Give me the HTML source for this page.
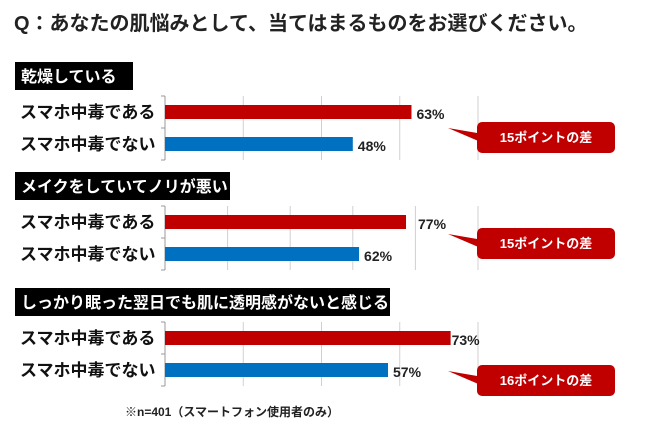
<!DOCTYPE html>
<html><head><meta charset="utf-8"><style>
body{margin:0;background:#fff;}
svg text{font-family:"Liberation Sans","Noto Sans CJK JP",sans-serif;font-weight:bold;}
</style></head><body>
<svg width="650" height="441" viewBox="0 0 650 441">
<text x="14" y="30" font-size="20" fill="#222">Q：あなたの肌悩みとして、当てはまるものをお選びください。</text>
<g id="panels"></g>
<text x="125" y="416" font-size="12" fill="#222">※n=401（スマートフォン使用者のみ）</text>
</svg>
<script>
const panelTitles=["乾燥している","メイクをしていてノリが悪い","しっかり眠った翌日でも肌に透明感がないと感じる"];
const categories=["スマホ中毒である","スマホ中毒でない"];
const addictedValues=[63,77,73];
const notAddictedValues=[48,62,57];
const diffLabels=["15ポイントの差","15ポイントの差","16ポイントの差"];
const axisMax=[80,100,80];
const gridStep=20;
const NS="http://www.w3.org/2000/svg";
const g=document.getElementById('panels');
const x0=165, axisW=313;
const tops=[62,172,288];
const titleW=[118,215,375];
function mk(t,a,parent){const e=document.createElementNS(NS,t);for(const k in a)e.setAttribute(k,a[k]);(parent||g).appendChild(e);return e;}
panelTitles.forEach((t,i)=>{
  const xs=v=>x0+v/axisMax[i]*axisW;
  const y=tops[i];
  const box=mk('rect',{x:15,y:y,width:titleW[i],height:28,fill:'#000'});
  
  
  const tt=mk('text',{x:21,y:y+20,'font-size':16,fill:'#fff'});tt.textContent=t;
  
  
  const gt=y+34, gb=y+98;
  for(let v=0;v<=axisMax[i];v+=gridStep){
    const l=mk('line',{x1:xs(v),x2:xs(v),y1:gt,y2:gb,stroke:v==0?'#999':'#d0d0d0','stroke-width':1});
    
    
  }
  [gt,gt+32,gb].forEach(yy=>{mk('line',{x1:x0-4,x2:x0,y1:yy,y2:yy,stroke:'#999'});});
  const vals=[addictedValues[i],notAddictedValues[i]];
  const cols=['#c00000','#0070c0'];
  vals.forEach((v,j)=>{
    const by=gt+9+j*32;
    const lab=mk('text',{x:20,y:by+13,'font-size':17,fill:'#111'});lab.textContent=categories[j];
    
    
    const b=mk('rect',{x:x0,y:by,width:xs(v)-x0,height:14,fill:cols[j]});
    
    
    const off=(i==2&&j==0)?1:(i==1&&j==0?12:5);
    const vl=mk('text',{x:xs(v)+off,y:by+14,'font-size':14,fill:'#222'});vl.textContent=v+'%';
    
    
  });
  const cy=[122,228,365][i];
  const p=mk('path',{d:`M483 ${cy+12} L448 ${cy+6} L490 ${cy+24} Z`,fill:'#c00000'});
  
  
  const r=mk('rect',{x:477,y:cy,width:138,height:31,rx:5,fill:'#c00000'});
  
  
  const ct=mk('text',{x:546,y:cy+20,'font-size':13,fill:'#fff','text-anchor':'middle'});ct.textContent=diffLabels[i];
  
  
});
</script>
</body></html>
